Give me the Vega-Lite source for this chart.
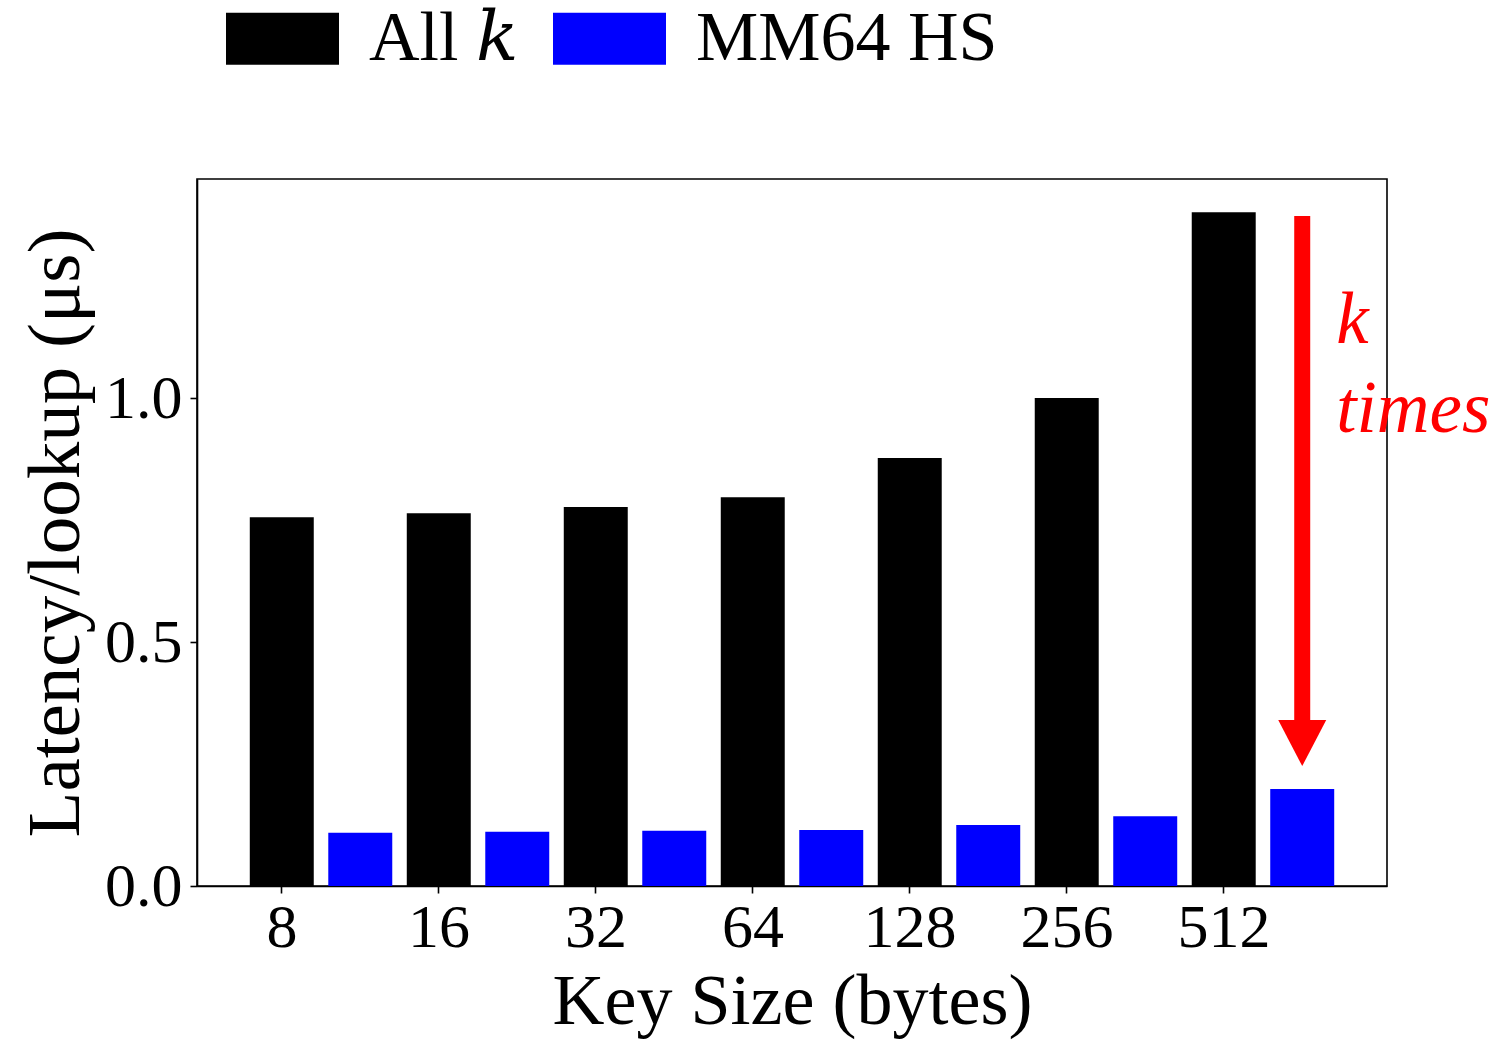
{
  "$schema": "https://vega.github.io/schema/vega-lite/v6.json",
  "autosize": "none",
  "width": 1190,
  "height": 707,
  "padding": {"left": 197, "top": 179, "right": 106, "bottom": 157},
  "background": "white",
  "config": {
    "font": "Liberation Serif",
    "view": {"stroke": "black", "strokeWidth": 1.6},
    "axis": {
      "labelFont": "Liberation Serif",
      "titleFont": "Liberation Serif",
      "labelColor": "black",
      "titleColor": "black",
      "titleFontWeight": "normal",
      "domainColor": "black",
      "domainWidth": 1.6,
      "tickColor": "black",
      "tickWidth": 1.6,
      "tickSize": 7,
      "grid": false
    }
  },
  "datasets": {
    "latency": [
      {"size": "8", "series": "All 𝑘", "latency": 0.756},
      {"size": "16", "series": "All 𝑘", "latency": 0.764},
      {"size": "32", "series": "All 𝑘", "latency": 0.777},
      {"size": "64", "series": "All 𝑘", "latency": 0.797},
      {"size": "128", "series": "All 𝑘", "latency": 0.877},
      {"size": "256", "series": "All 𝑘", "latency": 1.0},
      {"size": "512", "series": "All 𝑘", "latency": 1.381},
      {"size": "8", "series": "MM64 HS", "latency": 0.109},
      {"size": "16", "series": "MM64 HS", "latency": 0.111},
      {"size": "32", "series": "MM64 HS", "latency": 0.113},
      {"size": "64", "series": "MM64 HS", "latency": 0.115},
      {"size": "128", "series": "MM64 HS", "latency": 0.125},
      {"size": "256", "series": "MM64 HS", "latency": 0.143},
      {"size": "512", "series": "MM64 HS", "latency": 0.199}
    ],
    "arrow": [
      {"size": "512", "series": "MM64 HS", "from": 1.373, "to": 0.33, "head": 0.293}
    ],
    "note": [
      {"size": "512", "series": "MM64 HS", "text": "k", "at": 1.113},
      {"size": "512", "series": "MM64 HS", "text": "times", "at": 0.93}
    ]
  },
  "encoding": {
    "x": {
      "field": "size",
      "type": "ordinal",
      "sort": ["8", "16", "32", "64", "128", "256", "512"],
      "scale": {"paddingInner": 0, "paddingOuter": 0.29},
      "axis": {
        "title": "Key Size (bytes)",
        "labelAngle": 0,
        "labelFontSize": 62,
        "titleFontSize": 72,
        "labelPadding": 4,
        "titlePadding": 8,
        "bandPosition": 0.25,
        "labelOffset": -39
      }
    },
    "xOffset": {
      "field": "series",
      "type": "nominal",
      "sort": ["All 𝑘", "MM64 HS"],
      "scale": {"paddingInner": 0.185, "paddingOuter": 0.0925}
    }
  },
  "layer": [
    {
      "data": {"name": "latency"},
      "mark": {"type": "bar", "stroke": null},
      "encoding": {
        "y": {
          "field": "latency",
          "type": "quantitative",
          "scale": {"domain": [0, 1.449], "nice": false, "zero": true},
          "axis": {
            "title": "Latency/lookup (μs)",
            "values": [0, 0.5, 1.0],
            "format": ".1f",
            "labelFontSize": 62,
            "titleFontSize": 75,
            "labelPadding": 8,
            "titlePadding": 10
          }
        },
        "color": {
          "field": "series",
          "type": "nominal",
          "sort": ["All 𝑘", "MM64 HS"],
          "scale": {"range": ["#000000", "#0000ff"]},
          "legend": {
            "orient": "none",
            "direction": "horizontal",
            "legendX": 29,
            "legendY": -197,
            "title": null,
            "symbolType": "M-1,-0.46L1,-0.46L1,0.46L-1,0.46Z",
            "symbolSize": 12769,
            "symbolStrokeWidth": 0,
            "labelFontSize": 70,
            "labelFont": "Liberation Serif, DejaVu Serif",
            "labelColor": "black",
            "labelLimit": 0,
            "labelOffset": 30,
            "columnPadding": 34
          }
        }
      }
    },
    {
      "data": {"name": "arrow"},
      "mark": {"type": "rule", "color": "#ff0000", "strokeWidth": 16, "strokeCap": "butt"},
      "encoding": {
        "y": {"field": "from", "type": "quantitative"},
        "y2": {"field": "to"}
      }
    },
    {
      "data": {"name": "arrow"},
      "mark": {
        "type": "point",
        "shape": "M-1,-0.96L1,-0.96L0,0.96Z",
        "size": 2304,
        "filled": true,
        "color": "#ff0000",
        "opacity": 1,
        "strokeWidth": 0
      },
      "encoding": {
        "y": {"field": "head", "type": "quantitative"}
      }
    },
    {
      "data": {"name": "note"},
      "mark": {
        "type": "text",
        "align": "left",
        "baseline": "alphabetic",
        "dx": 34,
        "font": "Liberation Serif",
        "fontStyle": "italic",
        "fontSize": 73,
        "color": "#ff0000"
      },
      "encoding": {
        "y": {"field": "at", "type": "quantitative"},
        "text": {"field": "text"}
      }
    }
  ]
}
